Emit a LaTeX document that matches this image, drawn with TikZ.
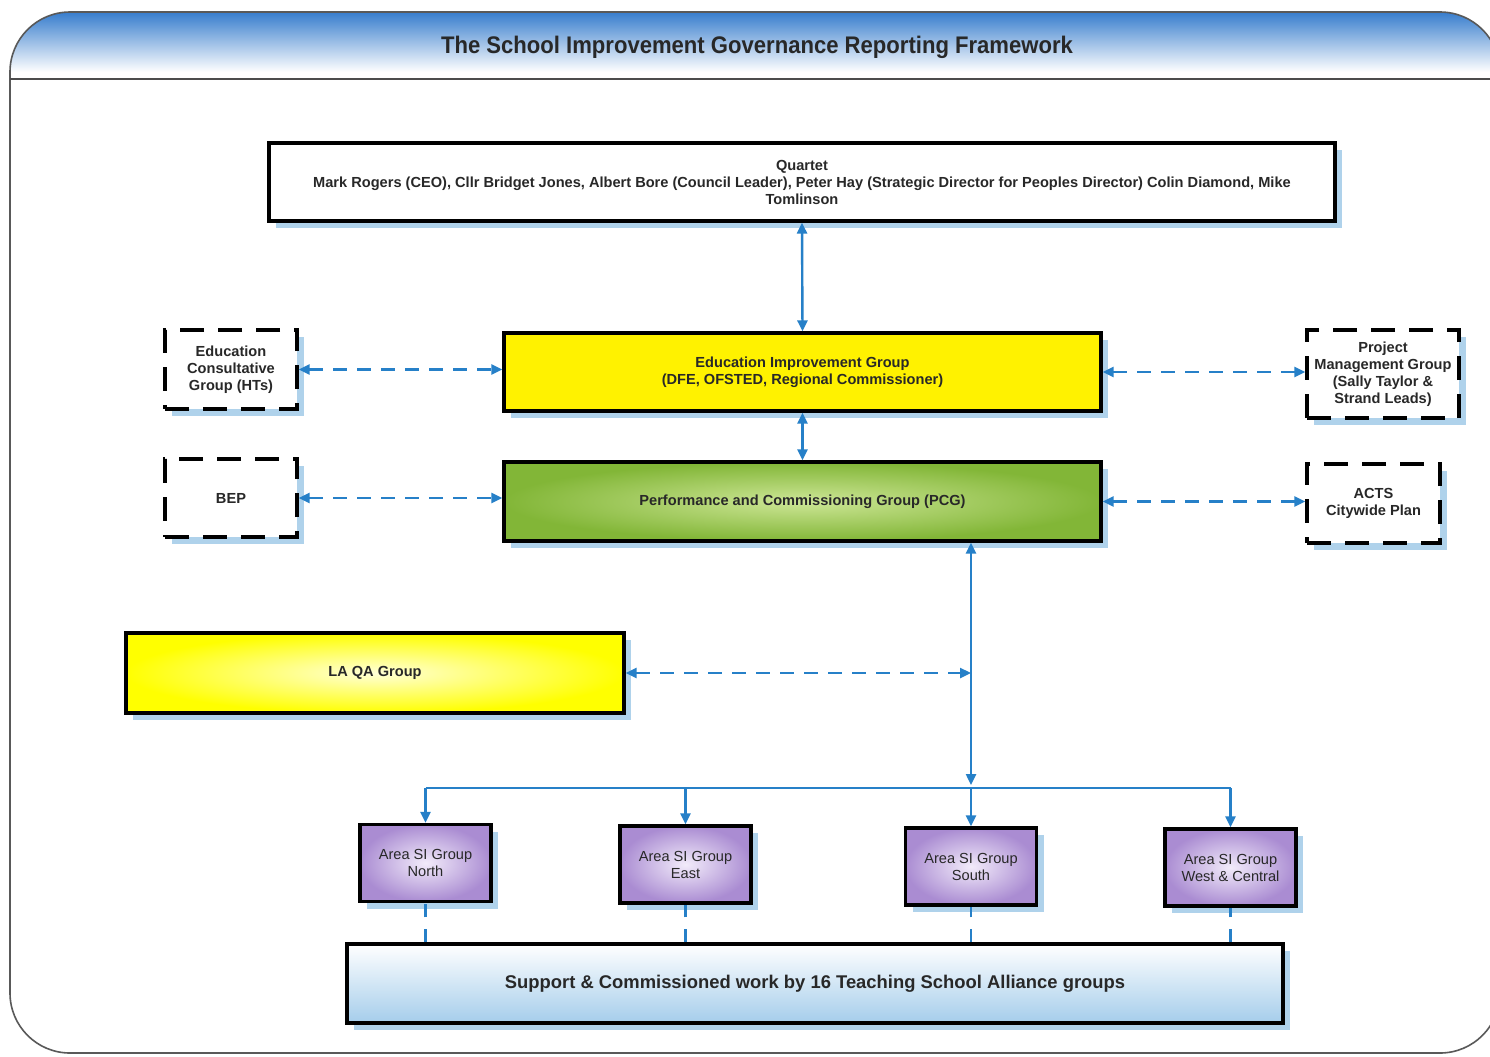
\documentclass[tikz,border=0pt]{standalone}
\usepackage{fontspec}
\setmainfont{Liberation Sans}
\newfontfamily\titlefont[FakeStretch=0.92]{Liberation Sans}
\usetikzlibrary{arrows.meta,shadows}
\definecolor{cblue}{RGB}{38,128,200}
\definecolor{shblue}{RGB}{175,210,235}
\definecolor{tblue}{RGB}{55,125,205}
\definecolor{pcgin}{RGB}{205,230,150}
\definecolor{pcgout}{RGB}{130,182,55}
\definecolor{qain}{RGB}{255,255,215}
\definecolor{areain}{RGB}{242,235,250}
\definecolor{areaout}{RGB}{170,140,210}
\definecolor{botblue}{RGB}{165,205,235}
\definecolor{txt}{RGB}{40,40,40}
\tikzset{
  box/.style={draw=black, line width=1.6pt, align=center, text=txt,
    font=\bfseries\fontsize{7.3}{8.5}\selectfont, inner sep=2pt,
    drop shadow={shadow xshift=3.5pt, shadow yshift=-3.5pt, fill=shblue, opacity=1}},
  dbox/.style={box, fill=white, dash pattern=on 12pt off 7pt},
  areabox/.style={box, inner color=areain, outer color=areaout,
    font=\fontsize{7.3}{8.5}\selectfont, minimum width=65.5pt, minimum height=38.5pt},
  conn/.style={draw=cblue, line width=1.2pt},
  dconn/.style={conn, dash pattern=on 7pt off 5pt},
  sconn/.style={conn, dash pattern=on 6.5pt off 6pt},
}
\begin{document}
\begin{tikzpicture}[x=0.5pt,y=-0.5pt,>={Triangle[length=5.5pt,width=5pt]}]
\clip (0,0) rectangle (1490,1056);
\useasboundingbox (0,0) rectangle (1490,1056);
\fill[white] (0,0) rectangle (1490,1056);
% frame and title band
\begin{scope}
\clip[rounded corners=30pt] (10,12) rectangle (1500,1053);
\shade[top color=tblue, bottom color=white] (0,12) rectangle (1500,72);
\fill[white] (0,72) rectangle (1500,79);
\end{scope}
\draw[black!65, line width=0.8pt, rounded corners=30pt] (10,12) rectangle (1500,1053);
\draw[black!70, line width=1pt] (10,79) -- (1490,79);
\node[font=\titlefont\bfseries\fontsize{12}{14}\selectfont, text=txt] (title) at (757,47) {The School Improvement Governance Reporting Framework};

% main boxes
\node[box, fill=white, minimum width=533pt, minimum height=39pt] (q) at (802,182)
  {Quartet\\Mark Rogers (CEO), Cllr Bridget Jones, Albert Bore (Council Leader), Peter Hay (Strategic Director for Peoples Director) Colin Diamond, Mike\\Tomlinson};
\node[box, fill=yellow, minimum width=298.5pt, minimum height=39pt] (eig) at (802.5,372)
  {Education Improvement Group\\(DFE, OFSTED, Regional Commissioner)};
\node[box, inner color=pcgin, outer color=pcgout, minimum width=298.5pt, minimum height=39.5pt] (pcg) at (802.5,501.5)
  {Performance and Commissioning Group (PCG)};
\node[dbox, minimum width=66pt, minimum height=39.5pt] (edu) at (231,369.5)
  {Education\\Consultative\\Group (HTs)};
\node[dbox, minimum width=66pt, minimum height=39pt] (bep) at (231,498) {BEP};
\node[dbox, minimum width=76pt, minimum height=44pt] (pm) at (1383,374)
  {Project\\Management Group\\(Sally Taylor \&\\Strand Leads)};
\node[dbox, minimum width=66.5pt, minimum height=39.5pt] (acts) at (1373.5,503.5)
  {ACTS\\Citywide Plan};
\node[box, inner color=qain, outer color=yellow, minimum width=249pt, minimum height=40pt] (qa) at (375,673)
  {LA QA Group};

% area groups
\node[areabox] (n) at (425.5,863) {Area SI Group\\North};
\node[areabox] (e) at (685.5,864.5) {Area SI Group\\East};
\node[areabox] (s) at (971,866.5) {Area SI Group\\South};
\node[areabox] (w) at (1230.5,867.5) {Area SI Group\\West \& Central};

\node[box, top color=white, bottom color=botblue, minimum width=468pt, minimum height=39.5pt,
  font=\bfseries\fontsize{9.2}{11}\selectfont] (bot) at (815,983.5)
  {Support \& Commissioned work by 16 Teaching School Alliance groups};

% connectors
\draw[conn,<->] (q.south) -- (eig.north);
\draw[conn,<->] (eig.south) -- (pcg.north);
\draw[dconn,<->] (edu.east) -- (edu.east -| eig.west);
\draw[dconn,<->] (bep.east) -- (bep.east -| pcg.west);
\draw[dconn,<->] (eig.east) -- (eig.east -| pm.west);
\draw[dconn,<->] (pcg.east) -- (pcg.east -| acts.west);
\coordinate (bus) at (971,788);
\draw[conn,<->] (pcg.south -| s.north) -- ([yshift=1.5pt]bus);
\draw[dconn,<->] (qa.east) -- (qa.east -| s.north);
\draw[conn] (bus -| n.north) -- (bus -| w.north);
\draw[conn,->] (bus) -- (s.north);
\draw[conn,->] (bus -| n.north) -- (n.north);
\draw[conn,->] (bus -| e.north) -- (e.north);
\draw[conn,->] (bus -| w.north) -- (w.north);
\draw[sconn] (bot.north -| n.south) -- (n.south);
\draw[sconn] (bot.north -| e.south) -- (e.south);
\draw[sconn] (bot.north -| s.south) -- (s.south);
\draw[sconn] (bot.north -| w.south) -- (w.south);
\end{tikzpicture}
\end{document}
